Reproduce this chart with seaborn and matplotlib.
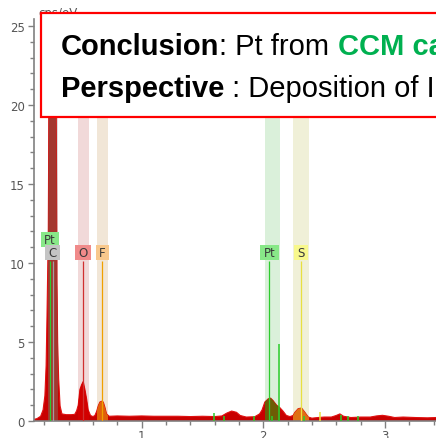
"""EDX spectrum (cps/eV vs keV) with element markers and a conclusion banner."""

import matplotlib
matplotlib.use("Agg")
import matplotlib.pyplot as plt
from matplotlib.patches import Rectangle
from matplotlib.path import Path
import numpy as np
import pandas as pd
import seaborn as sns

# spectrum (keV, cps/eV)
energy_kev = [0.113, 0.14, 0.17, 0.19, 0.205, 0.215, 0.222, 0.228, 0.233, 0.237,
              0.245, 0.26, 0.277, 0.29, 0.30, 0.304, 0.31, 0.318, 0.33, 0.345,
              0.38, 0.42, 0.45, 0.466, 0.479, 0.493, 0.507, 0.52, 0.534, 0.548,
              0.561, 0.58, 0.60, 0.616, 0.63, 0.643, 0.657, 0.671, 0.685, 0.698,
              0.712, 0.734, 0.80, 0.90, 1.00, 1.10, 1.20, 1.30, 1.40, 1.50,
              1.60, 1.66, 1.70, 1.74, 1.78, 1.81, 1.86, 1.93, 1.97, 1.99,
              2.013, 2.04, 2.06, 2.08, 2.11, 2.136, 2.16, 2.19, 2.22, 2.245,
              2.26, 2.287, 2.315, 2.342, 2.37, 2.40, 2.45, 2.50, 2.56, 2.60,
              2.63, 2.66, 2.72, 2.80, 2.88, 2.93, 2.98, 3.03, 3.08, 3.15,
              3.25, 3.35, 3.42]
counts = [0.1, 0.15, 0.3, 0.7, 1.6, 3.5, 6.5, 9.5, 12, 19,
          28, 34, 38, 30, 17, 9, 5, 2.7, 0.95, 0.45,
          0.4, 0.4, 0.42, 0.65, 1.0, 2.0, 2.3, 2.5, 2.0, 1.4,
          0.7, 0.35, 0.28, 0.35, 0.6, 0.95, 1.2, 1.25, 1.2, 0.88,
          0.45, 0.3, 0.32, 0.3, 0.32, 0.3, 0.3, 0.3, 0.28, 0.3,
          0.28, 0.32, 0.5, 0.63, 0.55, 0.35, 0.25, 0.27, 0.45, 0.7,
          1.2, 1.4, 1.45, 1.3, 1.0, 0.85, 0.65, 0.35, 0.28, 0.35,
          0.55, 0.78, 0.82, 0.55, 0.25, 0.18, 0.22, 0.25, 0.25, 0.35,
          0.45, 0.3, 0.22, 0.25, 0.25, 0.32, 0.36, 0.3, 0.22, 0.25,
          0.22, 0.2, 0.22]

# element labels: name, line energy, label level
elements = ["Pt", "C", "O", "F", "Pt", "S"]
element_kev = [0.246, 0.27, 0.52, 0.676, 2.05, 2.307]
label_level = [11.5, 10.66, 10.66, 10.66, 10.66, 10.66]
line_height = [10.1, 10.1, 10.1, 10.1, 10.1, 10.1]

# highlighted regions: lo, hi keV
band_elements = ["C", "O", "F", "Pt", "S"]
band_lo = [0.23, 0.477, 0.633, 2.013, 2.243]
band_hi = [0.312, 0.57, 0.723, 2.136, 2.377]

# small line markers
marker_kev = [1.594, 1.68, 1.925, 2.07, 2.126, 2.334, 2.64, 2.698, 2.78, 2.465]
marker_height = [0.5, 0.3, 0.3, 0.3, 4.9, 0.3, 0.35, 0.3, 0.3, 0.6]
marker_element = ["Pt"] * 9 + ["S"]

band_colors = {"C": "#dcdcdc", "O": "#f1d9d9", "F": "#f1e6d7", "Pt": "#daf0da", "S": "#f0f0d8"}
peak_colors = {"C": "#a3372f", "O": "#d20000", "F": "#e0600a", "Pt": "#6e5c05", "S": "#e07012"}
box_colors = {"C": "#c4c4c4", "O": "#f08a8a", "F": "#f8c88c", "Pt": "#88e888", "S": "#f8f88c"}
line_colors = {"C": "#a0a0a0", "O": "#d03030", "F": "#f0a000", "Pt": "#2ccc2c", "S": "#e8e040"}

sns.set_style("ticks")
plt.rcParams["font.family"] = ["DejaVu Sans"]

fig = plt.figure(figsize=(4.36, 4.39), dpi=100)
ax = fig.add_axes([33.7 / 436, 17 / 439, 1 - 33.7 / 436, 402 / 439])

spec = pd.DataFrame({"keV": energy_kev, "cps": counts})

# pale bands behind the spectrum
for el, lo, hi in zip(band_elements, band_lo, band_hi):
    ax.axvspan(lo, hi, color=band_colors[el], lw=0, zorder=0)

# spectrum
ax.fill_between(spec["keV"], 0, spec["cps"], color="#c80000", lw=0, zorder=1)
sns.lineplot(data=spec, x="keV", y="cps", ax=ax, color="#e01010", lw=0.8, zorder=1.5)

# coloured peak areas inside the bands
for el, lo, hi in zip(band_elements, band_lo, band_hi):
    fill = ax.fill_between(spec["keV"], 0, spec["cps"], color=peak_colors[el], lw=0, zorder=2)
    clip = Rectangle((lo, 0), hi - lo, 1, transform=ax.get_xaxis_transform())
    fill.set_clip_path(clip)

# small markers
for e, h, el in zip(marker_kev, marker_height, marker_element):
    ax.vlines(e, 0, h, color=line_colors[el], lw=1.1, zorder=3)


def label_box(x0, y0, width, height, mutation_size):
    # wider than tall padding, like the element tags of the original
    px = 0.28 * mutation_size
    py = 0.1 * mutation_size
    return Path([(x0 - px, y0 - py), (x0 + width + px, y0 - py),
                 (x0 + width + px, y0 + height + py), (x0 - px, y0 + height + py),
                 (x0 - px, y0 - py)], closed=True)


# label lines and boxes
for el, e, lvl, h in zip(elements, element_kev, label_level, line_height):
    ax.vlines(e, 0, h, color=line_colors[el], lw=0.9, zorder=3)
    ax.text(e, lvl, el, ha="center", va="center", fontsize=8.5, color="#3a3a3a", zorder=4,
            bbox=dict(boxstyle=label_box, fc=box_colors[el], ec="none"))

ax.set_xlim(0.113, 3.42)
ax.set_ylim(0, 25.45)
ax.set_xticks([1, 2, 3])
ax.set_xticks(np.arange(0.2, 3.41, 0.2), minor=True)
ax.set_yticks([0, 5, 10, 15, 20, 25])
ax.set_yticks(np.arange(0, 26, 1), minor=True)
ax.set_xlabel("")
ax.set_ylabel("")
ax.tick_params(axis="both", which="both", colors="#808080", labelcolor="#555555",
               labelsize=8.5, width=1, direction="out")
ax.tick_params(axis="y", which="major", length=4, pad=2.5)
ax.tick_params(axis="y", which="minor", length=3)
ax.tick_params(axis="x", which="major", length=5, pad=0.5)
ax.tick_params(axis="x", which="minor", length=3)
for side in ["top", "right"]:
    ax.spines[side].set_visible(False)
for side in ["left", "bottom"]:
    ax.spines[side].set_color("#808080")
    ax.spines[side].set_linewidth(1.2)

ax.text(38 / 436, 1 - 7 / 439, "cps/eV", transform=fig.transFigure, ha="left", va="top",
        fontsize=8.5, color="#555555", clip_on=False, zorder=1)

# conclusion banner
banner = Rectangle((41 / 436, 1 - 118 / 439), 1.0, 104 / 439, transform=fig.transFigure,
                   fc="white", ec="#ff0000", lw=1.6, clip_on=False, zorder=10)
ax.add_patch(banner)

font = ["Liberation Sans", "DejaVu Sans"]


def chain(parts, x, y):
    prev = None
    for s, weight, color in parts:
        if prev is None:
            prev = ax.annotate(s, xy=(x, y), xycoords="figure fraction", ha="left", va="baseline",
                               fontsize=21, fontweight=weight, color=color, family=font,
                               annotation_clip=False, zorder=11)
        else:
            prev = ax.annotate(s, xy=(1, 0), xycoords=prev, ha="left", va="bottom",
                               fontsize=21, fontweight=weight, color=color, family=font,
                               annotation_clip=False, zorder=11)


chain([("Conclusion", "bold", "black"), (": Pt from ", "normal", "black"),
       ("CCM ca", "bold", "#00b050")], 61 / 436, 1 - 55 / 439)
chain([("Perspective", "bold", "black"), (" : Deposition of I", "normal", "black")],
      61 / 436, 1 - 97 / 439)

fig.savefig("out.png", dpi=100)
